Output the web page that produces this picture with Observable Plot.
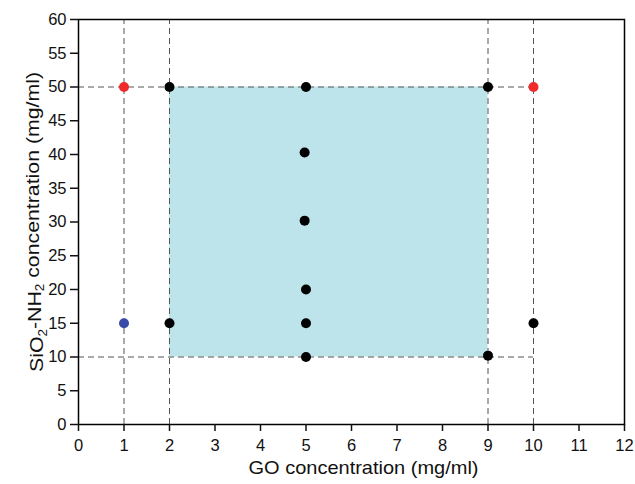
<!DOCTYPE html>
<html>
<head>
<meta charset="utf-8">
<script src="https://cdn.jsdelivr.net/npm/d3@7"></script>
<script src="https://cdn.jsdelivr.net/npm/@observablehq/plot@0.6"></script>
<style>
  html, body { margin: 0; padding: 0; background: #fff; }
  svg { font-family: "Liberation Sans", Arial, sans-serif; }
</style>
</head>
<body>
<div id="chart"></div>
<script>
// Data points
const goConc  = [1, 10, 1, 2, 5, 9, 4.97, 4.97, 5, 5, 5, 2, 9, 10];
const sioConc = [50, 50, 15, 50, 50, 50, 40.3, 30.2, 20, 15, 10, 15, 10.2, 15];
const pointColor = ["#f02a2a", "#f02a2a", "#3a4aa8", "#000", "#000", "#000", "#000", "#000", "#000", "#000", "#000", "#000", "#000", "#000"];

// Dashed guides
const vGuides = [1, 2, 9, 10];
const hGuides = [50, 10];
const hGuideEnd = 10;

// Shaded region
const region = [{x1: 2, x2: 9, y1: 10, y2: 50}];

const xTicks = d3.range(0, 13, 1);
const yTicks = d3.range(0, 61, 5);

const pts = goConc.map((x, i) => ({x, y: sioConc[i], c: pointColor[i]}));

const plot = Plot.plot({
  width: 635,
  height: 484,
  marginLeft: 78,
  marginRight: 11,
  marginTop: 19,
  marginBottom: 60,
  style: {fontFamily: "Liberation Sans, Arial, sans-serif", fontSize: "16px", color: "#111"},
  x: {domain: [0, 12]},
  y: {domain: [0, 60]},
  marks: [
    Plot.rect(region, {x1: "x1", x2: "x2", y1: "y1", y2: "y2", fill: "#bce4ea"}),
    Plot.ruleX(vGuides, {y1: 0, y2: 60, stroke: "#555", strokeWidth: 1, strokeDasharray: "6,4"}),
    Plot.ruleY(hGuides, {x1: 0, x2: hGuideEnd, stroke: "#555", strokeWidth: 1, strokeDasharray: "6,4"}),
    Plot.dot(pts, {x: "x", y: "y", fill: "c", r: 5}),
    Plot.frame({stroke: "#000", strokeWidth: 1.5}),
    Plot.axisX({ticks: xTicks, tickSize: 7, tickPadding: 8, strokeWidth: 1.5, fontSize: 16.5,
      label: "GO concentration (mg/ml)", labelAnchor: "center", labelArrow: "none", labelOffset: 49}),
    Plot.axisY({ticks: yTicks, tickSize: 8, tickPadding: 4, strokeWidth: 1.5, fontSize: 16.5,
      label: "SiO₂-NH₂ concentration (mg/ml)", labelAnchor: "center", labelArrow: "none", labelOffset: 49})
  ]
});

document.getElementById("chart").appendChild(plot);

// axis label sizing and subscripts
d3.select(plot).selectAll("g[aria-label='x-axis label'] text")
  .style("font-size", "19px")
  .attr("dx", 12)
  .attr("textLength", 230).attr("lengthAdjust", "spacingAndGlyphs");
d3.select(plot).selectAll("g[aria-label='y-axis label'] text").each(function() {
  const t = d3.select(this);
  t.style("font-size", "19px");
  const s = t.text();
  if (s.includes("₂")) {
    t.text("");
    const parts = s.split("₂");
    parts.forEach((p, i) => {
      const sp = t.append("tspan").text(p);
      if (i > 0) sp.attr("dy", "-0.3em");
      if (i < parts.length - 1) {
        t.append("tspan").attr("dy", "0.3em").style("font-size", "12px").text("2");
      }
    });
  }
  t.attr("textLength", 300).attr("lengthAdjust", "spacingAndGlyphs");
});
</script>
</body>
</html>
